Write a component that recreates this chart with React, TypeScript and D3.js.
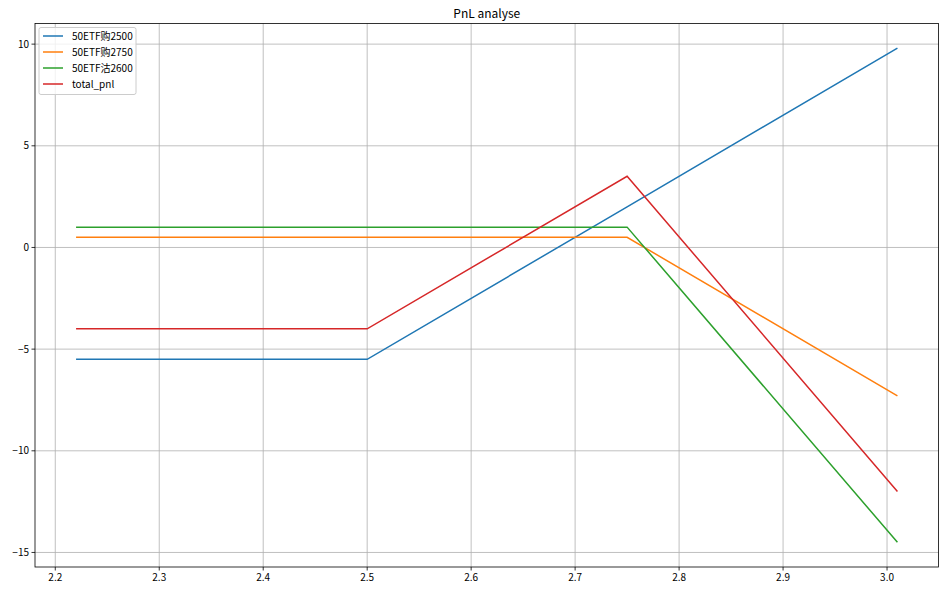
import React from "react";
import * as d3 from "d3";

const xValues = [2.22, 2.5, 2.75, 3.01];
const seriesNames = ["50ETF购2500", "50ETF购2750", "50ETF沽2600", "total_pnl"];
const call2500 = [-5.5, -5.5, 2.0, 9.8];
const call2750 = [0.5, 0.5, 0.5, -7.3];
const put2600 = [1.0, 1.0, 1.0, -14.5];
const totalPnl = [-4.0, -4.0, 3.5, -12.0];
const xTicks = [2.2, 2.3, 2.4, 2.5, 2.6, 2.7, 2.8, 2.9, 3.0];
const yTicks = [-15, -10, -5, 0, 5, 10];
const colors = ["#1f77b4", "#ff7f0e", "#2ca02c", "#d62728"];
const title = "PnL analyse";

const W = 948, H = 592;
const left = 35, right = 938.5, top = 23.5, bottom = 567;
const FONT = "'Noto Sans CJK SC', 'DejaVu Sans', sans-serif";

export default function App() {
  const allSeries = [call2500, call2750, put2600, totalPnl];
  const xmin = d3.min(xValues)!, xmax = d3.max(xValues)!;
  const allY = allSeries.flat();
  const ymin = d3.min(allY)!, ymax = d3.max(allY)!;
  const xp = (xmax - xmin) * 0.05, yp = (ymax - ymin) * 0.05;
  const x = d3.scaleLinear().domain([xmin - xp, xmax + xp]).range([left, right]);
  const y = d3.scaleLinear().domain([ymin - yp, ymax + yp]).range([bottom, top]);
  const line = d3.line<number>().x((_, i) => x(xValues[i])).y((v) => y(v));
  const fmtY = (v: number) => (v < 0 ? "\u2212" + Math.abs(v) : String(v));
  return (
    <div style={{ position: "absolute", left: 0, top: 0 }}>
      <svg width={W} height={H} style={{ display: "block", background: "#fff" }} fontFamily={FONT}>
        <rect x={0} y={0} width={W} height={H} fill="#fff" />
        <g stroke="#b0b0b0" strokeWidth={0.8}>
          {xTicks.map((t) => (
            <line key={"gx" + t} x1={x(t)} x2={x(t)} y1={top} y2={bottom} />
          ))}
          {yTicks.map((t) => (
            <line key={"gy" + t} x1={left} x2={right} y1={y(t)} y2={y(t)} />
          ))}
        </g>
        {allSeries.map((s, i) => (
          <path key={i} d={line(s)!} fill="none" stroke={colors[i]} strokeWidth={1.5} />
        ))}
        <rect x={left} y={top} width={right - left} height={bottom - top} fill="none" stroke="#000" strokeWidth={0.8} />
        {xTicks.map((t) => (
          <g key={"tx" + t}>
            <line x1={x(t)} x2={x(t)} y1={bottom} y2={bottom + 3.5} stroke="#000" strokeWidth={0.8} />
            <text x={x(t)} y={bottom + 14} fontSize={10} textAnchor="middle" fill="#000">{t.toFixed(1)}</text>
          </g>
        ))}
        {yTicks.map((t) => (
          <g key={"ty" + t}>
            <line x1={left - 3.5} x2={left} y1={y(t)} y2={y(t)} stroke="#000" strokeWidth={0.8} />
            <text x={left - 6} y={y(t)} dy="0.35em" fontSize={10} textAnchor="end" fill="#000">{fmtY(t)}</text>
          </g>
        ))}
        <text x={(left + right) / 2} y={top - 6} fontSize={12} textAnchor="middle" fill="#000">{title}</text>
        <g>
          <rect x={39} y={27.5} width={97} height={67} rx={2} fill="#fff" fillOpacity={0.8} stroke="#cccccc" strokeWidth={1} />
          {seriesNames.map((n, i) => (
            <g key={n} transform={`translate(0, ${36 + i * 16})`}>
              <line x1={43} x2={63} y1={0} y2={0} stroke={colors[i]} strokeWidth={1.5} />
              <text x={72} y={0} dy="0.35em" fontSize={10} fill="#000">{n}</text>
            </g>
          ))}
        </g>
      </svg>
    </div>
  );
}
